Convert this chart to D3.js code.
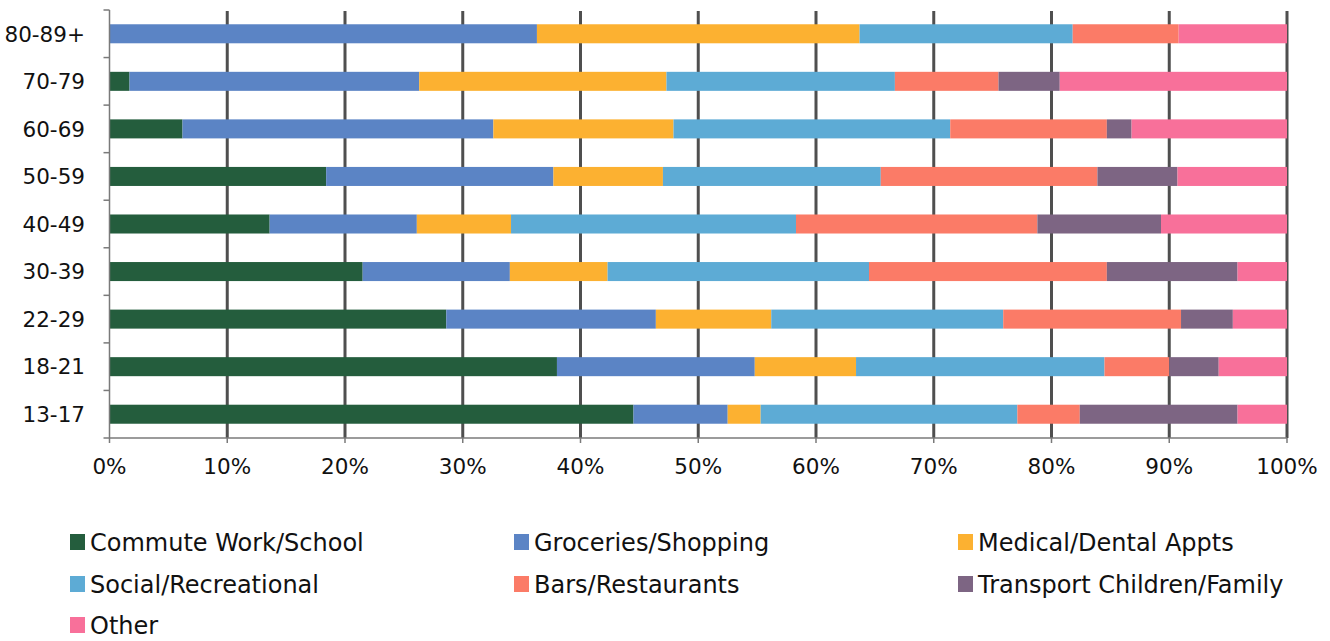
<!DOCTYPE html>
<html>
<head>
<meta charset="utf-8">
<script src="https://cdn.jsdelivr.net/npm/d3@7"></script>
<style>
  body { margin: 0; background: #fff; }
  svg { display: block; }
  text { font-family: "DejaVu Sans", sans-serif; fill: #111; }
</style>
</head>
<body>
<div id="chart"></div>
<script>
// age groups, top to bottom as in the picture
const ageGroups = ["80-89+", "70-79", "60-69", "50-59", "40-49", "30-39", "22-29", "18-21", "13-17"];

const tripTypes = [
  "Commute Work/School", "Groceries/Shopping", "Medical/Dental Appts",
  "Social/Recreational", "Bars/Restaurants", "Transport Children/Family", "Other"
];

const tripColors = ["#245d3d", "#5b84c5", "#fcb131", "#5dabd5", "#fb7b67", "#7d6583", "#f8709a"];

// share of trips (%) per age group, same order as ageGroups
const commute   = [0,    1.7,  6.2,  18.4, 13.6, 21.5, 28.6, 38.0, 44.5];
const groceries = [36.3, 24.6, 26.4, 19.3, 12.5, 12.5, 17.8, 16.8, 8.0];
const medical   = [27.4, 21.0, 15.3, 9.3,  8.0,  8.3,  9.8,  8.6,  2.8];
const social    = [18.1, 19.4, 23.5, 18.5, 24.2, 22.2, 19.7, 21.1, 21.8];
const bars      = [9.0,  8.8,  13.3, 18.4, 20.5, 20.2, 15.1, 5.5,  5.3];
const transport = [0,    5.2,  2.1,  6.8,  10.5, 11.1, 4.4,  4.2,  13.4];
const other     = [9.2,  19.3, 13.2, 9.3,  10.7, 4.2,  4.6,  5.8,  4.2];

const xTicks = [0, 10, 20, 30, 40, 50, 60, 70, 80, 90, 100];

const series = [commute, groceries, medical, social, bars, transport, other];

// table for d3.stack
const rows = ageGroups.map((g, i) => {
  const r = { group: g };
  tripTypes.forEach((t, j) => { r[t] = series[j][i]; });
  return r;
});

const W = 1330, H = 641;
const plotL = 109.5, plotR = 1287, plotT = 10, plotB = 438;

const svg = d3.select("#chart").append("svg")
  .attr("width", W)
  .attr("height", H);

const x = d3.scaleLinear().domain([0, 100]).range([plotL, plotR]);
const y = d3.scaleBand().domain(ageGroups).range([plotT, plotB])
  .paddingInner(0.6).paddingOuter(0.3);

// vertical gridlines (behind the bars)
svg.append("g")
  .selectAll("line")
  .data(xTicks.filter(d => d > 0))
  .join("line")
    .attr("x1", d => x(d)).attr("x2", d => x(d))
    .attr("y1", plotT + 1).attr("y2", plotB)
    .attr("stroke", "#4f4f4f")
    .attr("stroke-width", 3);

const stacked = d3.stack().keys(tripTypes)(rows);

svg.append("g")
  .selectAll("g")
  .data(stacked)
  .join("g")
    .attr("fill", (d, i) => tripColors[i])
  .selectAll("rect")
  .data(d => d)
  .join("rect")
    .attr("x", d => x(d[0]))
    .attr("y", d => y(d.data.group))
    .attr("width", d => Math.max(0, x(d[1]) - x(d[0])))
    .attr("height", y.bandwidth());

// left axis: line with ticks on band boundaries
const step = y.step();
const yAxis = svg.append("g");
yAxis.append("line")
  .attr("x1", plotL).attr("x2", plotL)
  .attr("y1", plotT).attr("y2", plotB)
  .attr("stroke", "#7a7a7a").attr("stroke-width", 1.5);
yAxis.selectAll(".tk")
  .data(d3.range(ageGroups.length + 1))
  .join("line")
    .attr("class", "tk")
    .attr("x1", plotL - 6).attr("x2", plotL)
    .attr("y1", k => plotT + k * step).attr("y2", k => plotT + k * step)
    .attr("stroke", "#7a7a7a").attr("stroke-width", 1.5);
yAxis.selectAll("text")
  .data(ageGroups)
  .join("text")
    .attr("x", 85)
    .attr("y", d => y(d) + y.bandwidth() / 2)
    .attr("dy", "0.36em")
    .attr("text-anchor", "end")
    .attr("font-size", 21.5)
    .text(d => d);

// bottom axis
const xAxis = svg.append("g");
xAxis.append("line")
  .attr("x1", plotL).attr("x2", plotR)
  .attr("y1", plotB).attr("y2", plotB)
  .attr("stroke", "#7a7a7a").attr("stroke-width", 1.5);
xAxis.selectAll(".tk")
  .data(xTicks)
  .join("line")
    .attr("class", "tk")
    .attr("x1", d => x(d)).attr("x2", d => x(d))
    .attr("y1", plotB).attr("y2", plotB + 5)
    .attr("stroke", "#7a7a7a").attr("stroke-width", 1.5);
xAxis.selectAll("text")
  .data(xTicks)
  .join("text")
    .attr("x", d => x(d))
    .attr("y", 466)
    .attr("dy", "0.36em")
    .attr("text-anchor", "middle")
    .attr("font-size", 21.5)
    .text(d => d + "%");

// legend, 3 columns
const legX = [70, 514, 958];
const legY = [542, 584, 625];
const legend = svg.append("g");
tripTypes.forEach((t, i) => {
  const cx = legX[i % 3], cy = legY[Math.floor(i / 3)];
  legend.append("rect")
    .attr("x", cx).attr("y", cy - 8)
    .attr("width", 15).attr("height", 16)
    .attr("fill", tripColors[i]);
  legend.append("text")
    .attr("x", cx + 20)
    .attr("y", cy)
    .attr("dy", "0.36em")
    .attr("font-size", 24)
    .text(t);
});
</script>
</body>
</html>
